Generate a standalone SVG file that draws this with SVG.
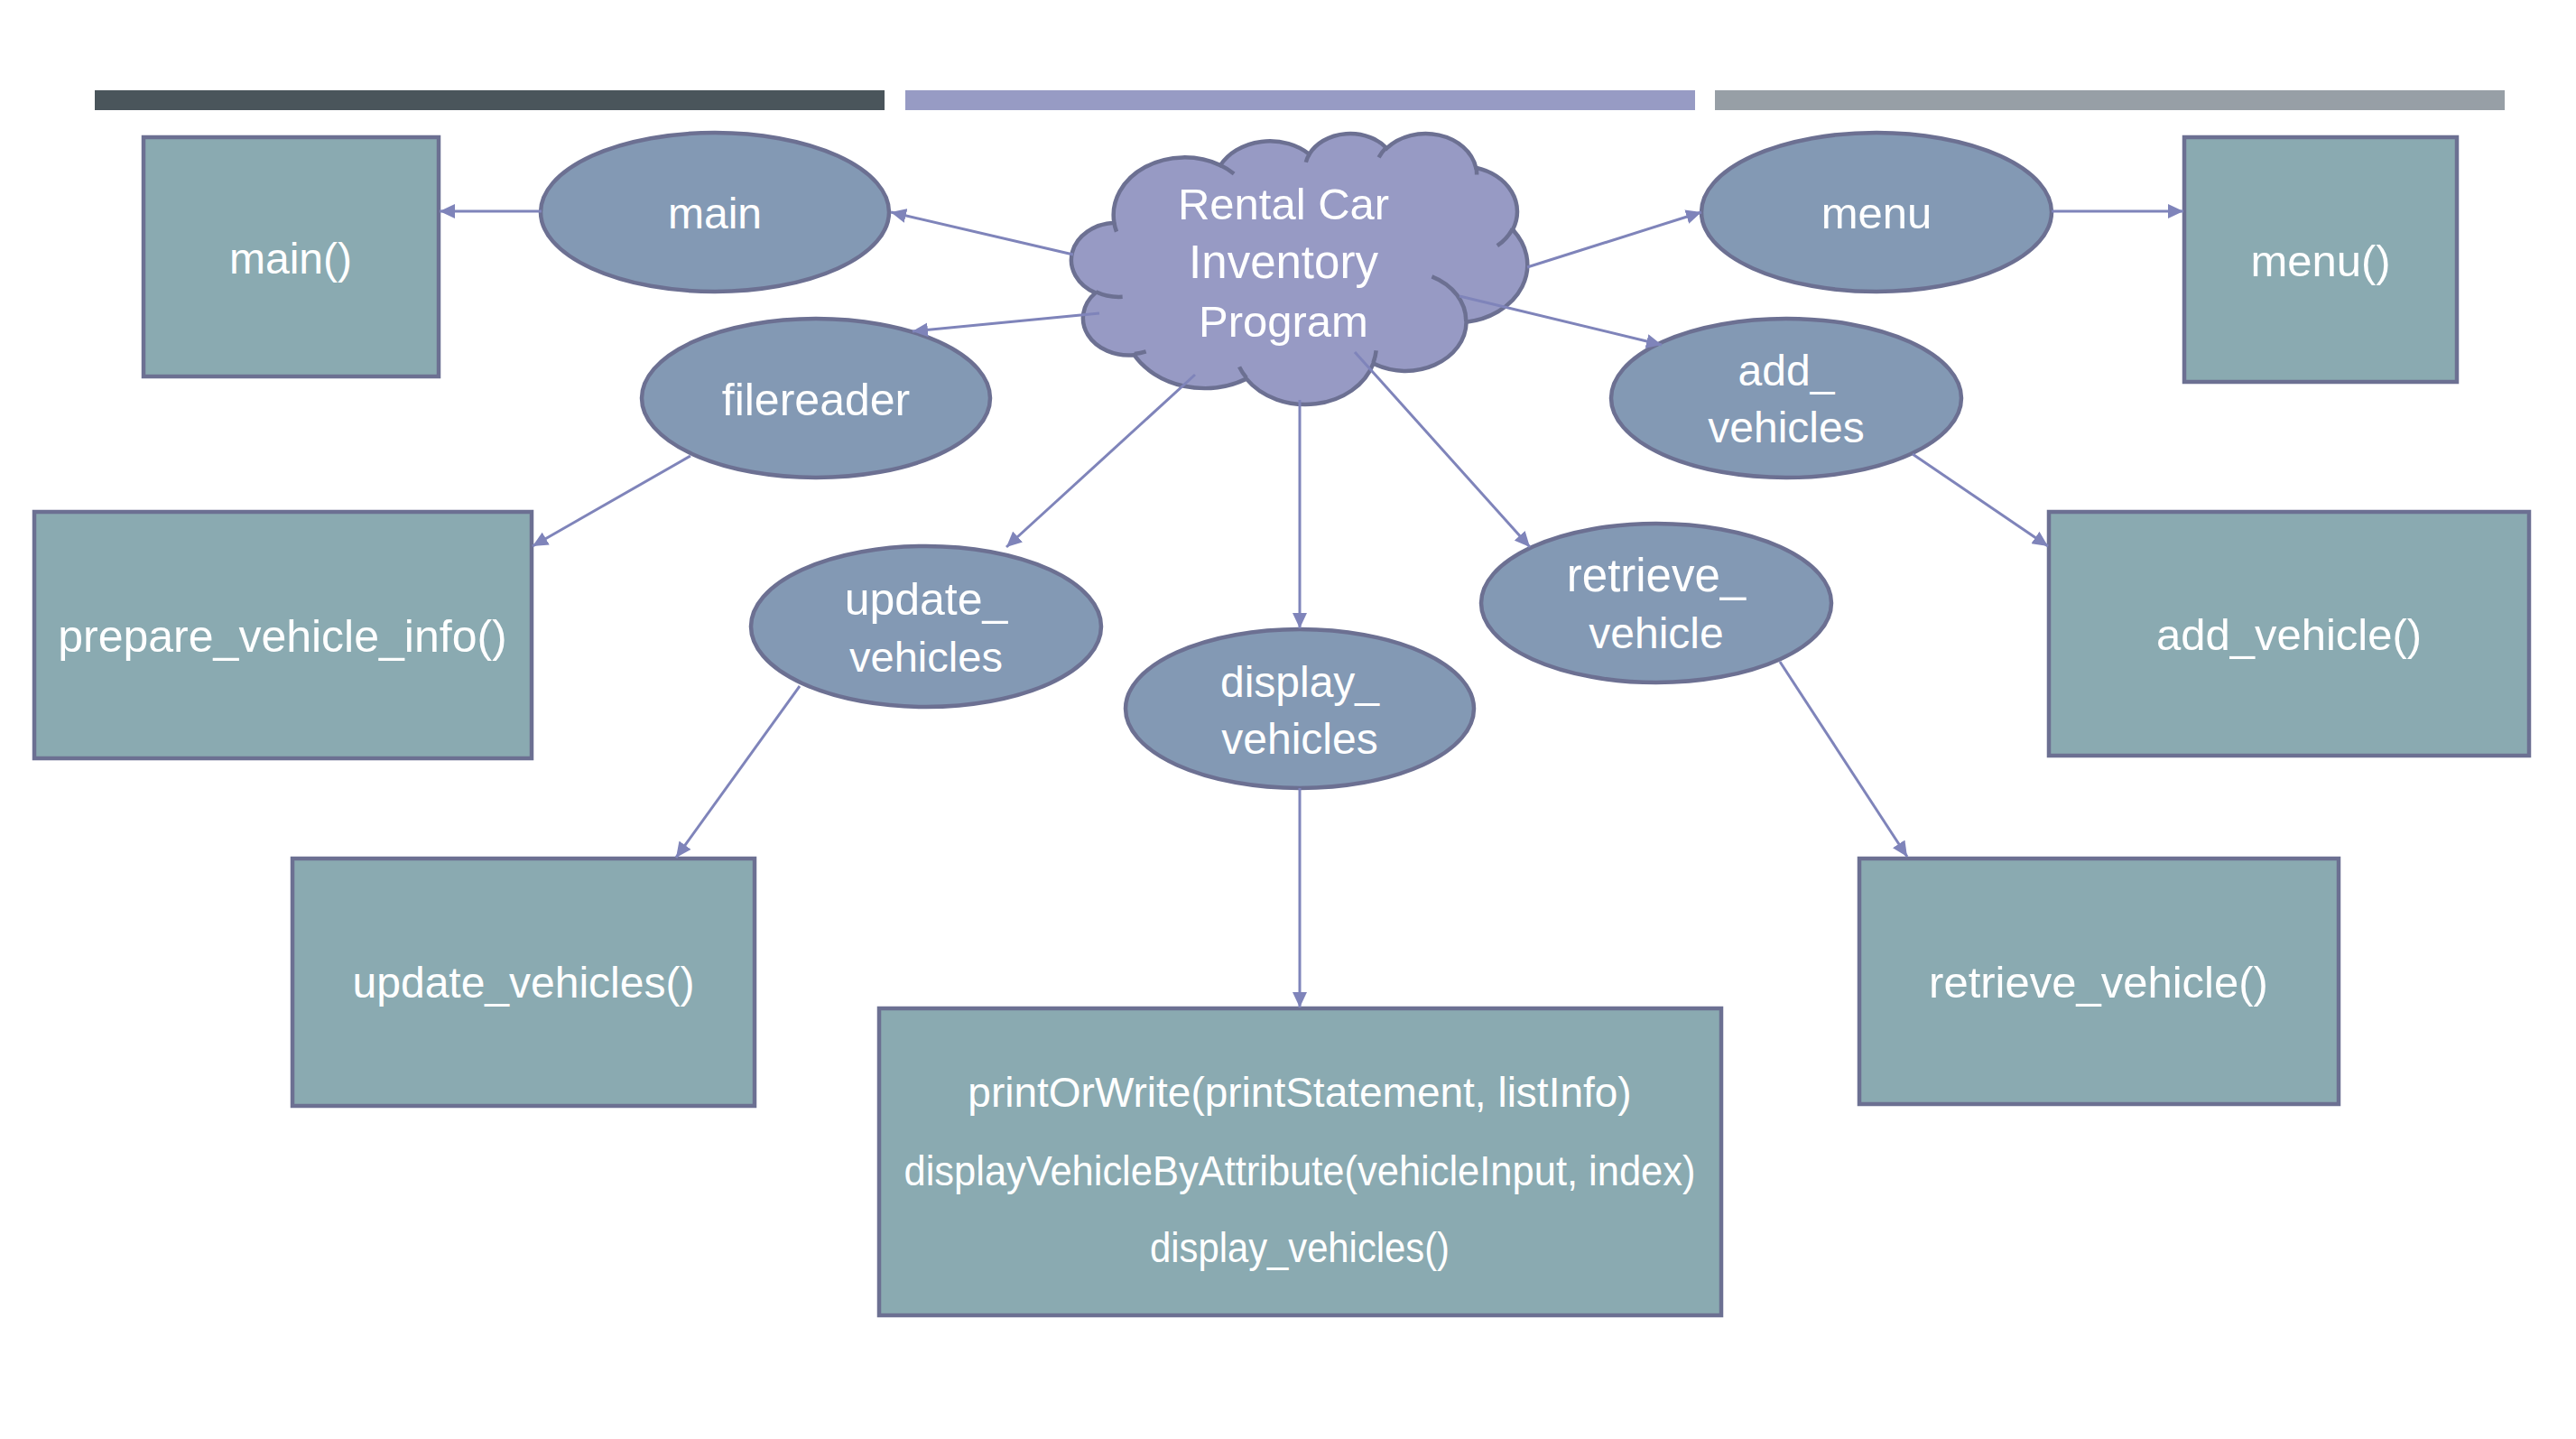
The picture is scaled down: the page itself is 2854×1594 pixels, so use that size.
<svg xmlns="http://www.w3.org/2000/svg" width="2854" height="1594" viewBox="0 0 2854 1594">
<style>
.bar{stroke:none}
.box{fill:#8AAAB1;stroke:#6C7092;stroke-width:4.5}
.ell{fill:#8399B4;stroke:#6C7092;stroke-width:4.5}
.cloud{fill:#979AC4;stroke:#6C7092;stroke-width:4.5;vector-effect:non-scaling-stroke}
.cloudin{fill:none;stroke:#6C7092;stroke-width:4.5;vector-effect:non-scaling-stroke}
.t{font-family:"Liberation Sans",Arial,sans-serif;font-size:48px;fill:#FFFFFF;text-anchor:middle}
.tc{font-family:"Liberation Sans",Arial,sans-serif;font-size:49px;fill:#FFFFFF;text-anchor:middle}
.c{fill:none;stroke:#7F84BA;stroke-width:3;marker-end:url(#ah)}
</style>
<defs>
<marker id="ah" markerUnits="userSpaceOnUse" markerWidth="18" markerHeight="16" refX="17" refY="8" orient="auto">
<path d="M0,0 L17,8 L0,16 Z" fill="#7F84BA"/>
</marker>
</defs>
<rect width="2854" height="1594" fill="#FFFFFF"/>
<g id="header-bars">
<rect class="bar" x="105" y="100" width="875" height="22" fill="#4A555B"/>
<rect class="bar" x="1003" y="100" width="875" height="22" fill="#979BC4"/>
<rect class="bar" x="1900" y="100" width="875" height="22" fill="#979FA6"/>
</g>
<g id="node-main-box"><rect class="box" x="159" y="152" width="327" height="265"/><text class="t" x="322" y="303">main()</text></g>
<g id="node-menu-box"><rect class="box" x="2420" y="152" width="302" height="271"/><text class="t" x="2571" y="306" style="font-size:49px">menu()</text></g>
<g id="node-prepare-box"><rect class="box" x="38" y="567" width="551" height="273"/><text class="t" x="313" y="722" style="font-size:50px">prepare_vehicle_info()</text></g>
<g id="node-add-box"><rect class="box" x="2270" y="567" width="532" height="270"/><text class="t" x="2536" y="720" style="font-size:49px">add_vehicle()</text></g>
<g id="node-update-box"><rect class="box" x="324" y="951" width="512" height="274"/><text class="t" x="580" y="1105">update_vehicles()</text></g>
<g id="node-retrieve-box"><rect class="box" x="2060" y="951" width="531" height="272"/><text class="t" x="2325" y="1105" style="font-size:49px">retrieve_vehicle()</text></g>
<g id="node-display-box"><rect class="box" x="974" y="1117" width="933" height="340"/>
<text class="t" x="1440" y="1226" style="font-size:46px">printOrWrite(printStatement, listInfo)</text>
<text class="t" x="1440" y="1313" style="font-size:46px" textLength="877" lengthAdjust="spacingAndGlyphs">displayVehicleByAttribute(vehicleInput, index)</text>
<text class="t" x="1440" y="1398" style="font-size:46px" textLength="332" lengthAdjust="spacingAndGlyphs">display_vehicles()</text></g>
<g id="node-main"><ellipse class="ell" cx="792" cy="235" rx="193" ry="88"/><text class="t" x="792" y="253">main</text></g>
<g id="node-menu"><ellipse class="ell" cx="2079" cy="235" rx="194" ry="88"/><text class="t" x="2079" y="253" style="font-size:49px">menu</text></g>
<g id="node-filereader"><ellipse class="ell" cx="904" cy="441" rx="193" ry="88"/><text class="t" x="904" y="460" style="font-size:50px">filereader</text></g>
<g id="node-add"><ellipse class="ell" cx="1979" cy="441" rx="194" ry="88"/><text class="t" x="1979" y="427">add_</text><text class="t" x="1979" y="490">vehicles</text></g>
<g id="node-update"><ellipse class="ell" cx="1026" cy="694" rx="194" ry="89"/><text class="t" x="1026" y="681" style="font-size:50px">update_</text><text class="t" x="1026" y="744" style="font-size:47px">vehicles</text></g>
<g id="node-display"><ellipse class="ell" cx="1440" cy="785" rx="193" ry="88"/><text class="t" x="1440" y="772">display_</text><text class="t" x="1440" y="835">vehicles</text></g>
<g id="node-retrieve"><ellipse class="ell" cx="1835" cy="668" rx="194" ry="88"/><text class="t" x="1835" y="655" style="font-size:51px">retrieve_</text><text class="t" x="1835" y="718">vehicle</text></g>
<g id="node-cloud">
<g transform="translate(1189,147) scale(0.011644,0.006944)">
<path class="cloud" d="M3900,14370 A6753,9190 0 0 1 14006,5203 A5333,7267 0 0 1 22458,3432 A4365,5945 0 0 1 29835,2480 A4857,6595 0 0 1 38320,5575 A5333,7273 0 0 1 41821,15459 A6775,9220 0 0 1 37406,30200 A5785,7867 0 0 1 28557,36810 A6752,9215 0 0 1 16482,39262 A7720,10543 0 0 1 5805,35467 A4360,5918 0 0 1 2114,25545 A4345,5945 0 0 1 3900,14370 Z"/>
<path class="cloudin" d="M4693,26177 A4345,5945 0 0 1 2160,25380 M6928,34899 A4360,5918 0 0 1 5820,35281 M16478,39090 A6752,9215 0 0 1 15810,37350 M28827,34751 A6752,9215 0 0 1 28560,36659 M34129,22954 A5785,7867 0 0 1 37380,30090 M41798,15354 A5333,7273 0 0 1 40350,18030 M38324,5426 A4857,6595 0 0 1 38400,6689 M29078,3952 A4857,6595 0 0 1 29820,2339 M22141,4720 A4365,5945 0 0 1 22500,3331 M14000,5192 A6753,9190 0 0 1 15300,6541 M4127,15789 A6753,9190 0 0 1 3900,14370"/>
</g>
<text class="tc" x="1422" y="243">Rental Car</text>
<text class="tc" x="1422" y="308" style="font-size:51px">Inventory</text>
<text class="tc" x="1422" y="373">Program</text>
</g>
<g id="connectors">
<line class="c" x1="1189" y1="282" x2="987" y2="235"/>
<line class="c" x1="1218" y1="347" x2="1011" y2="367"/>
<line class="c" x1="1324" y1="415" x2="1115" y2="606"/>
<line class="c" x1="1440" y1="443" x2="1440" y2="696"/>
<line class="c" x1="1501" y1="390" x2="1695" y2="606"/>
<line class="c" x1="1692" y1="296" x2="1885" y2="235"/>
<line class="c" x1="1617" y1="328" x2="1841" y2="382"/>
<line class="c" x1="600" y1="234" x2="487" y2="234"/>
<line class="c" x1="2273" y1="234" x2="2419" y2="234"/>
<line class="c" x1="765" y1="505" x2="590" y2="605"/>
<line class="c" x1="886" y1="760" x2="749" y2="950"/>
<line class="c" x1="2119" y1="503" x2="2269" y2="605"/>
<line class="c" x1="1972" y1="733" x2="2113" y2="949"/>
<line class="c" x1="1440" y1="873" x2="1440" y2="1116"/>
</g>
</svg>
